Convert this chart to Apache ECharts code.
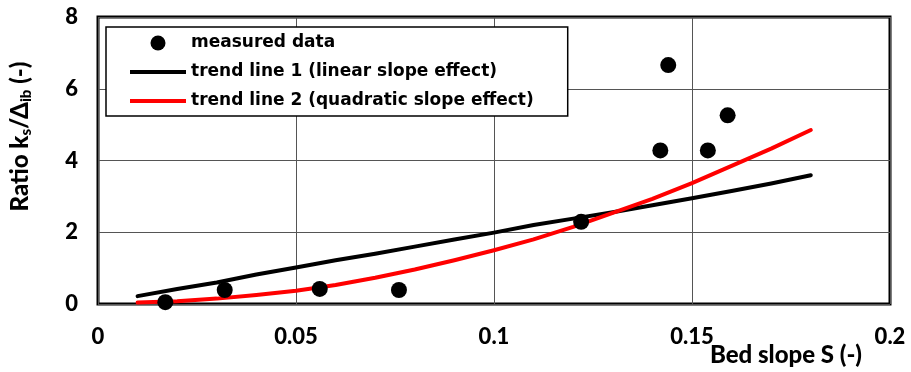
<!DOCTYPE html>
<html>
<head>
<meta charset="utf-8">
<script src="https://cdn.jsdelivr.net/npm/echarts@6/dist/echarts.min.js"></script>
<style>
  html, body { margin: 0; padding: 0; background: #fff; }
  #chart { width: 911px; height: 372px; }
</style>
</head>
<body>
<div id="chart"></div>
<script>
// Measured ratio k_s / Δ_ib against bed slope S
const measuredSlope = [0.017, 0.032, 0.056, 0.076, 0.122, 0.142, 0.144, 0.154, 0.159];
const measuredRatio = [0.05, 0.39, 0.42, 0.39, 2.29, 4.28, 6.66, 4.28, 5.26];

// Trend lines evaluated along the slope range
const trendSlope  = [0.01, 0.02, 0.03, 0.04, 0.05, 0.06, 0.07, 0.08, 0.09, 0.10,
                     0.11, 0.12, 0.13, 0.14, 0.15, 0.16, 0.17, 0.18];
const trendLinear = [0.22, 0.42, 0.60, 0.82, 1.02, 1.22, 1.40, 1.60, 1.80, 1.99,
                     2.20, 2.38, 2.56, 2.75, 2.95, 3.15, 3.36, 3.59];
const trendQuad   = [0.04, 0.08, 0.15, 0.25, 0.37, 0.53, 0.73, 0.96, 1.22, 1.50,
                     1.80, 2.15, 2.54, 2.93, 3.37, 3.85, 4.33, 4.85];

const xTicks = { min: 0, max: 0.2, step: 0.05 };
const yTicks = { min: 0, max: 8, step: 2 };

const seriesNames = [
  'measured data',
  'trend line 1 (linear slope effect)',
  'trend line 2 (quadratic slope effect)'
];

const FONT = 'Lato, "Open Sans", "Liberation Sans", sans-serif';
const LEGEND_FONT = '"DejaVu Sans", "Liberation Sans", sans-serif';
const LINE_ICON = 'path://M0 0H56V4H0Z';
const zip = (xs, ys) => xs.map((x, i) => [x, ys[i]]);

const chart = echarts.init(document.getElementById('chart'), null, { renderer: 'canvas' });

chart.setOption({
  animation: false,
  backgroundColor: '#fff',
  textStyle: { fontFamily: FONT },
  grid: {
    left: 98, right: 21, top: 17, bottom: 68,
    containLabel: false,
    outerBoundsMode: 'none',
    show: true, borderColor: '#000', borderWidth: 3, backgroundColor: 'transparent'
  },
  legend: {
    orient: 'vertical',
    left: 106, top: 27,
    padding: [6, 34, 5, 24],
    backgroundColor: '#fff',
    borderColor: '#000',
    borderWidth: 1.5,
    itemWidth: 56,
    itemHeight: 15,
    itemGap: 9,
    itemTextGap: 4,
    textStyle: { fontFamily: LEGEND_FONT, fontWeight: 'bold', fontSize: 17, color: '#000', lineHeight: 20 },
    data: [
      { name: seriesNames[0], icon: 'circle' },
      { name: seriesNames[1], icon: LINE_ICON },
      { name: seriesNames[2], icon: LINE_ICON }
    ]
  },
  xAxis: {
    type: 'value',
    min: xTicks.min, max: xTicks.max, interval: xTicks.step,
    axisLine: { show: false },
    axisTick: { show: false },
    splitLine: { show: true, lineStyle: { color: '#555', width: 1 } },
    axisLabel: {
      margin: 22, color: '#000', fontSize: 22, fontWeight: 900, fontFamily: FONT
    },
    name: 'Bed slope S (-)',
    nameLocation: 'end',
    nameGap: -28,
    nameMoveOverlap: false,
    nameTextStyle: {
      align: 'right', verticalAlign: 'top', padding: [39, 0, 0, 0],
      color: '#000', fontSize: 24, fontWeight: 900, fontFamily: FONT
    }
  },
  yAxis: {
    type: 'value',
    min: yTicks.min, max: yTicks.max, interval: yTicks.step,
    axisLine: { show: false },
    axisTick: { show: false },
    splitLine: { show: true, lineStyle: { color: '#555', width: 1 } },
    axisLabel: {
      margin: 20, color: '#000', fontSize: 22, fontWeight: 900, fontFamily: FONT
    },
    name: '{a|Ratio k}{s|s}{a|/Δ}{s|ib}{a| (-)}',
    nameLocation: 'middle',
    nameGap: 64,
    nameMoveOverlap: false,
    nameTextStyle: {
      color: '#000', fontFamily: FONT,
      padding: [0, 0, 0, 48],
      rich: {
        a: { fontSize: 24, fontWeight: 900, fontFamily: FONT, color: '#000', lineHeight: 28, verticalAlign: 'middle' },
        s: { fontSize: 15, fontWeight: 900, fontFamily: FONT, color: '#000', lineHeight: 28, verticalAlign: 'bottom' }
      }
    }
  },
  series: [
    {
      name: seriesNames[0],
      type: 'scatter',
      data: zip(measuredSlope, measuredRatio),
      symbol: 'circle',
      symbolSize: 16,
      itemStyle: { color: '#000', opacity: 1 },
      z: 3
    },
    {
      name: seriesNames[1],
      type: 'line',
      data: zip(trendSlope, trendLinear),
      showSymbol: false,
      symbol: 'none',
      lineStyle: { color: '#000', width: 4, cap: 'round', join: 'round' },
      itemStyle: { color: '#000' },
      z: 2
    },
    {
      name: seriesNames[2],
      type: 'line',
      data: zip(trendSlope, trendQuad),
      showSymbol: false,
      symbol: 'none',
      lineStyle: { color: '#ff0000', width: 4, cap: 'round', join: 'round' },
      itemStyle: { color: '#ff0000' },
      z: 2
    }
  ]
});
</script>
</body>
</html>
